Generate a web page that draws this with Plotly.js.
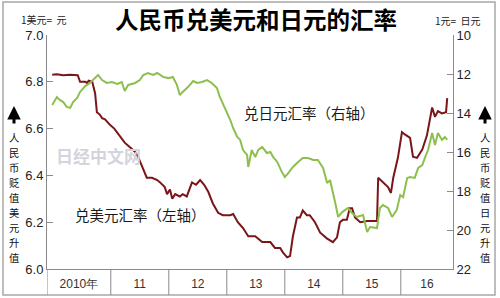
<!DOCTYPE html>
<html>
<head>
<meta charset="utf-8">
<script src="https://cdn.plot.ly/plotly-3.0.1.min.js"></script>
<style>
html,body{margin:0;padding:0;background:#fff;}
#chart{width:500px;height:298px;}
</style>
</head>
<body>
<div id="chart"></div>
<script>
// ---- data (decimal year, value) ----
const usdT = [2009.99,2010.07,2010.18,2010.30,2010.43,2010.47,2010.56,2010.59,2010.62,2010.68,2010.73,2010.76,2010.81,2010.85,2010.90,2010.93,2010.99,2011.06,2011.12,2011.19,2011.24,2011.33,2011.42,2011.47,2011.54,2011.59,2011.62,2011.71,2011.80,2011.85,2011.93,2011.97,2012.02,2012.06,2012.11,2012.19,2012.24,2012.31,2012.40,2012.47,2012.54,2012.61,2012.68,2012.76,2012.85,2012.93,2013.06,2013.11,2013.19,2013.28,2013.37,2013.49,2013.61,2013.75,2013.83,2013.92,2013.97,2014.04,2014.09,2014.14,2014.21,2014.26,2014.31,2014.38,2014.43,2014.52,2014.61,2014.73,2014.83,2014.90,2014.95,2015.00,2015.07,2015.12,2015.16,2015.21,2015.30,2015.42,2015.59,2015.61,2015.69,2015.78,2015.83,2015.87,2015.95,2016.02,2016.07,2016.16,2016.21,2016.28,2016.37,2016.45,2016.54,2016.59,2016.64,2016.71,2016.78,2016.80];
const usdCny = [6.83,6.832,6.828,6.83,6.828,6.80,6.80,6.795,6.805,6.80,6.75,6.67,6.66,6.645,6.64,6.63,6.615,6.60,6.58,6.56,6.54,6.52,6.50,6.48,6.44,6.41,6.39,6.39,6.38,6.37,6.35,6.32,6.34,6.30,6.32,6.31,6.32,6.31,6.37,6.36,6.38,6.36,6.33,6.28,6.24,6.23,6.23,6.235,6.20,6.175,6.14,6.14,6.115,6.115,6.09,6.09,6.07,6.05,6.055,6.14,6.22,6.22,6.25,6.23,6.23,6.20,6.155,6.13,6.115,6.135,6.20,6.21,6.21,6.26,6.26,6.22,6.20,6.205,6.205,6.39,6.37,6.35,6.325,6.39,6.475,6.585,6.575,6.56,6.48,6.475,6.51,6.57,6.69,6.65,6.675,6.665,6.67,6.73];

const jpyT = [2009.99,2010.04,2010.07,2010.12,2010.18,2010.24,2010.30,2010.35,2010.42,2010.47,2010.56,2010.64,2010.73,2010.78,2010.85,2010.93,2011.02,2011.11,2011.19,2011.24,2011.30,2011.42,2011.50,2011.56,2011.64,2011.73,2011.80,2011.90,2011.99,2012.07,2012.14,2012.19,2012.24,2012.33,2012.42,2012.49,2012.57,2012.66,2012.74,2012.83,2012.88,2012.97,2013.06,2013.11,2013.18,2013.23,2013.28,2013.35,2013.37,2013.43,2013.49,2013.54,2013.61,2013.69,2013.75,2013.80,2013.87,2013.95,2014.00,2014.06,2014.14,2014.23,2014.31,2014.40,2014.49,2014.57,2014.66,2014.73,2014.78,2014.87,2014.92,2014.99,2015.04,2015.09,2015.16,2015.24,2015.35,2015.42,2015.47,2015.59,2015.64,2015.69,2015.78,2015.85,2015.93,2015.99,2016.04,2016.11,2016.16,2016.24,2016.30,2016.37,2016.42,2016.47,2016.54,2016.59,2016.64,2016.71,2016.76,2016.80];
const jpyPerCny = [13.59,13.28,13.18,13.33,13.44,13.69,13.74,13.44,13.23,12.92,12.62,12.46,12.21,12.05,12.31,12.46,12.41,12.51,12.41,12.87,12.56,12.46,12.31,12.05,11.95,12.05,11.95,12.15,12.21,12.15,12.56,13.08,12.92,12.67,12.36,12.46,12.41,12.31,12.46,12.72,13.18,13.74,14.36,14.77,15.23,15.38,15.90,16.15,16.77,15.90,16.26,15.90,15.74,16.05,16.00,16.26,16.51,17.03,17.28,17.08,16.77,16.51,16.31,16.31,16.41,16.41,16.82,17.59,17.44,18.62,19.33,19.08,18.97,18.87,19.13,19.33,19.23,20.10,19.85,19.90,18.87,18.72,18.87,19.33,18.97,18.21,18.31,17.33,17.28,17.33,16.82,16.67,16.26,15.90,15.03,15.64,15.03,15.38,15.23,15.38];

const yearBounds = [2009.9,2011,2012,2013,2014,2015,2016,2016.9];
const yearLabels = ["2010年","11","12","13","14","15","16"];
const leftTicks = [6.0,6.2,6.4,6.6,6.8,7.0];
const rightTicks = [10,12,14,16,18,20,22];

const titleText = "人民币兑美元和日元的汇率";
const leftUnit = "1美元=&nbsp;&nbsp;元";
const rightUnit = "1元=&nbsp;&nbsp;日元";
const leftSide = "人民币贬值美元升值";
const rightSide = "人民币贬值日元升值";
const jpyLabel = "兑日元汇率（右轴）";
const usdLabel = "兑美元汇率（左轴）";
const watermark = "日经中文网";

// ---- layout helpers (pixel -> paper) ----
const L = 47, R = 453, T = 35, B = 269;
const px = x => (x - L) / (R - L);
const py = y => (B - y) / (B - T);

const CJK = "Noto Sans CJK SC, Noto Sans, sans-serif";
const NUM = "Liberation Sans Narrow, Liberation Sans, Arial, sans-serif";

const mids = [];
for (let i = 0; i < yearLabels.length; i++) mids.push((yearBounds[i] + yearBounds[i+1]) / 2);

const shapes = [];
// outer frame
shapes.push({type:'rect', xref:'paper', yref:'paper', x0:px(3), x1:px(495), y0:py(295), y1:py(2),
  line:{color:'#a8a8a8', width:1.5}});
// year band dividers
yearBounds.slice(0, -1).forEach(b => {
  shapes.push({type:'line', xref:'x', yref:'paper', x0:b, x1:b, y0:0, y1:py(295),
    line:{color:'#8a8a8a', width:1}});
});

const annotations = [];
function addText(text, x, y, size, opts) {
  annotations.push(Object.assign({text:text, xref:'paper', yref:'paper', x:px(x), y:py(y),
    showarrow:false, xanchor:'center', yanchor:'middle',
    font:{family:CJK, size:size, color:'#111'}}, opts || {}));
}
addText(leftUnit, 19, 19, 10, {xanchor:'left', font:{family:CJK, size:10, color:'#222'}});
addText(rightUnit, 433, 20, 10, {xanchor:'left', font:{family:CJK, size:10, color:'#222'}});
addText(watermark, 98, 155, 17, {font:{family:CJK, size:17, color:'#d3d4dc', weight:700}});
annotations.push({text:jpyLabel, xref:'x', yref:'y', x:2014.43, y:6.667, showarrow:false,
  font:{family:CJK, size:14.5, color:'#1a1a1a'}});
annotations.push({text:usdLabel, xref:'x', yref:'y', x:2011.52, y:6.231, showarrow:false,
  font:{family:CJK, size:14.5, color:'#1a1a1a'}});

// side vertical labels with arrows (one character per annotation, stacked)
[[14, leftSide], [485, rightSide]].forEach(([cx, str]) => {
  annotations.push({text:'', xref:'paper', yref:'paper', x:px(cx), y:py(106),
    showarrow:true, ax:0, ay:19, arrowhead:2, arrowsize:0.9, arrowwidth:3, arrowcolor:'#000'});
  Array.from(str).forEach((ch, i) => {
    addText(ch, cx, 137 + 15 * i, 10.3, {borderpad:0, font:{family:CJK, size:10.3, color:'#111'}});
  });
});

const traces = [
  {x:jpyT, y:jpyPerCny, yaxis:'y2', type:'scatter', mode:'lines',
   line:{color:'#8dbf4e', width:2}, hoverinfo:'skip'},
  {x:usdT, y:usdCny, yaxis:'y', type:'scatter', mode:'lines',
   line:{color:'#7a1518', width:2}, hoverinfo:'skip'}
];

const layout = {
  width:500, height:298,
  margin:{l:L, r:500-R, t:T, b:298-B, pad:0},
  paper_bgcolor:'#fff', plot_bgcolor:'#fff',
  showlegend:false,
  title:{text:titleText, x:0.512, xanchor:'center', y:0.93, yanchor:'middle',
    font:{family:CJK, size:23.5, weight:700, color:'#000'}},
  xaxis:{range:[yearBounds[0], yearBounds[yearBounds.length-1]], showline:true, linecolor:'#8a8a8a', linewidth:1,
    tickvals:mids, ticktext:yearLabels, ticks:'', showgrid:false, zeroline:false,
    tickfont:{family:NUM, size:12, color:'#333'}, ticklabelstandoff:4},
  yaxis:{range:[6.0,7.0], tickvals:leftTicks, tickformat:'.1f', ticks:'inside', ticklen:6,
    tickcolor:'#8a8a8a', showline:true, linecolor:'#8a8a8a', linewidth:1, showgrid:false, zeroline:false,
    tickfont:{family:NUM, size:13, color:'#222'}},
  yaxis2:{range:[22,10], overlaying:'y', side:'right', tickvals:rightTicks, ticks:'inside', ticklen:6,
    tickcolor:'#8a8a8a', showline:true, linecolor:'#8a8a8a', linewidth:1, showgrid:false, zeroline:false,
    tickfont:{family:NUM, size:13, color:'#222'}},
  shapes:shapes,
  annotations:annotations
};

Plotly.newPlot('chart', traces, layout, {staticPlot:true, displayModeBar:false});
</script>
</body>
</html>
